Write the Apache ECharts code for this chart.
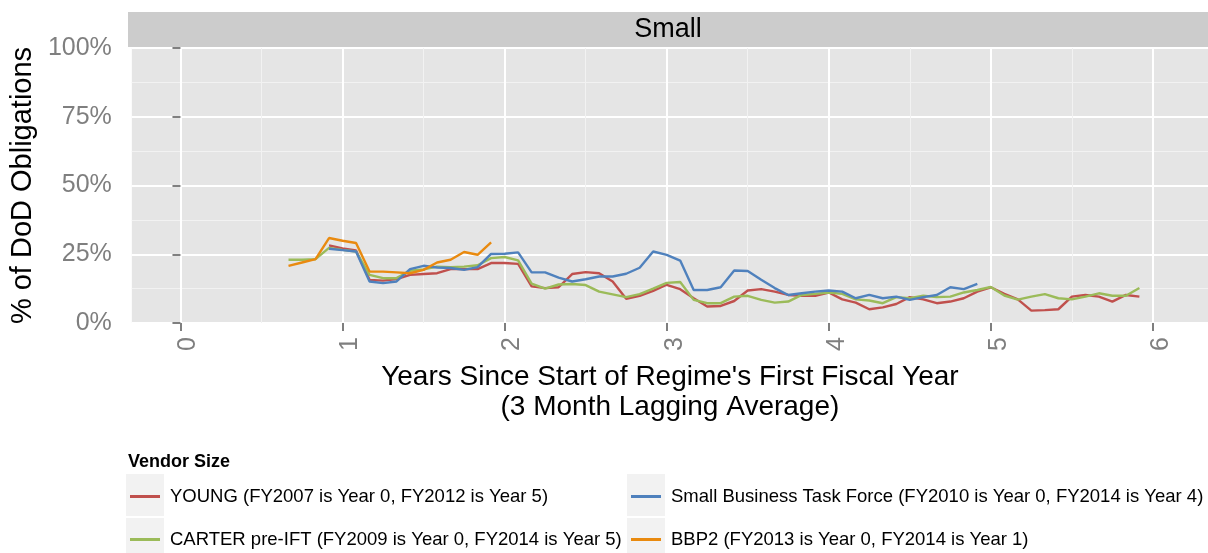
<!DOCTYPE html>
<html>
<head>
<meta charset="utf-8">
<script src="https://cdn.jsdelivr.net/npm/echarts@6/dist/echarts.min.js"></script>
<style>
  html, body { margin: 0; padding: 0; background: #fff; }
  #chart { width: 1208px; height: 553px; }
</style>
</head>
<body>
<div id="chart"></div>
<script>
// monthly points, x = month / 12 (years since start of regime)
const seriesNames = [
  'YOUNG (FY2007 is Year 0, FY2012 is Year 5)',
  'CARTER pre-IFT (FY2009 is Year 0, FY2014 is Year 5)',
  'Small Business Task Force (FY2010 is Year 0, FY2014 is Year 4)',
  'BBP2 (FY2013 is Year 0, FY2014 is Year 1)'
];
const youngStart = 11;
const youngValues = [28.2, 27.1, 26.4, 15.7, 15.4, 16.0, 17.5, 17.8, 18.1, 19.6, 19.6, 19.6, 21.8, 21.8, 21.5,
  13.3, 12.7, 13.0, 17.8, 18.5, 18.1, 15.1, 8.8, 9.9, 11.7, 13.9, 12.3, 9.0, 6.0, 6.2, 8.0, 11.8, 12.3, 11.4,
  10.2, 9.9, 9.9, 11.1, 8.6, 7.4, 5.0, 5.7, 6.9, 9.4, 8.6, 7.2, 7.8, 9.0, 11.4, 13.0, 10.6, 8.6, 4.5, 4.7, 5.0,
  9.6, 10.2, 9.6, 7.8, 10.2, 9.6];
const carterStart = 8;
const carterValues = [23.0, 23.0, 23.2, 27.3, 26.6, 26.0, 17.5, 16.3, 16.3, 19.0, 19.5, 20.5, 20.3, 20.5, 21.0,
  23.6, 24.0, 22.8, 14.3, 12.5, 14.0, 14.2, 13.8, 11.4, 10.4, 9.4, 10.5, 12.5, 14.6, 14.9, 8.4, 7.2, 7.2, 9.6,
  9.9, 8.4, 7.4, 7.8, 10.2, 10.6, 11.1, 10.6, 8.6, 8.2, 7.2, 9.4, 9.0, 9.9, 9.4, 9.6, 11.1, 12.0, 13.1, 10.0,
  8.5, 9.6, 10.5, 9.0, 8.6, 9.6, 10.8, 9.9, 9.9, 12.7];
const sbtfStart = 11;
const sbtfValues = [27.0, 26.5, 26.0, 15.1, 14.5, 15.1, 19.6, 20.8, 20.2, 20.0, 19.3, 20.3, 25.1, 25.2, 25.7,
  18.4, 18.4, 16.5, 15.1, 15.9, 16.9, 16.9, 17.9, 20.1, 26.0, 24.8, 22.7, 12.0, 12.0, 13.0, 19.1, 18.9, 15.7,
  12.7, 10.2, 10.8, 11.4, 11.8, 11.4, 9.0, 10.2, 9.0, 9.6, 8.4, 9.4, 10.2, 13.0, 12.3, 14.2];
const bbp2Start = 8;
const bbp2Values = [20.8, 22.0, 23.2, 30.9, 29.9, 29.1, 18.7, 18.7, 18.4, 18.1, 19.3, 22.0, 23.0, 25.8, 24.8, 29.3];

const xTicks = [0, 1, 2, 3, 4, 5, 6];
const xMinorTicks = [0.5, 1.5, 2.5, 3.5, 4.5, 5.5];

const colors = ['#C0504D', '#9BBB59', '#4F81BD', '#E98A0F'];
const font = "'Liberation Sans', Arial, sans-serif";

function toPoints(start, values) {
  return values.map((v, i) => [(start + i) / 12, v / 100]);
}

const chart = echarts.init(document.getElementById('chart'));

const lineSeries = [
  [youngStart, youngValues],
  [carterStart, carterValues],
  [sbtfStart, sbtfValues],
  [bbp2Start, bbp2Values]
].map((d, i) => ({
  name: seriesNames[i],
  type: 'line',
  xAxisIndex: 0,
  data: toPoints(d[0], d[1]),
  showSymbol: false,
  symbol: 'none',
  lineStyle: { color: colors[i], width: 2.4 },
  itemStyle: { color: colors[i] },
  z: 2 + i
}));

const legendBase = {
  orient: 'vertical',
  top: 487,
  height: 70,
  padding: 0,
  itemGap: 24,
  itemWidth: 30, itemHeight: 3,
  icon: 'rect',
  textStyle: { fontFamily: font, fontSize: 18.5, color: '#000', lineHeight: 18, padding: [0, 0, 0, 5] }
};

const option = {
  animation: false,
  grid: {
    left: 128, right: 0, top: 48, bottom: 230,
    show: true, backgroundColor: '#E5E5E5', borderWidth: 0
  },
  xAxis: [{
    type: 'value',
    min: -0.3,
    max: 6.34,
    name: "Years Since Start of Regime's First Fiscal Year\n(3 Month Lagging Average)",
    nameLocation: 'middle',
    nameGap: 39,
    nameTextStyle: { fontFamily: font, fontSize: 28, color: '#000', lineHeight: 30 },
    axisLine: { show: false },
    axisTick: { show: true, length: 8, customValues: xTicks, lineStyle: { color: '#7F7F7F', width: 2 } },
    axisLabel: {
      customValues: xTicks, rotate: 90, margin: 14,
      verticalAlign: 'top', lineHeight: 16,
      fontFamily: font, fontSize: 25, color: '#7F7F7F'
    },
    splitLine: { show: true, lineStyle: { color: '#FFFFFF', width: 2 } }
  }, {
    type: 'value',
    min: -0.3,
    max: 6.34,
    position: 'bottom',
    axisLine: { show: false },
    axisTick: { show: false, customValues: xMinorTicks },
    axisLabel: { show: false, customValues: xMinorTicks },
    splitLine: { show: true, lineStyle: { color: '#F2F2F2', width: 1 } }
  }],
  yAxis: {
    type: 'value',
    min: 0,
    max: 1,
    interval: 0.25,
    name: '% of DoD Obligations',
    nameLocation: 'middle',
    nameGap: 78,
    nameTextStyle: { fontFamily: font, fontSize: 29, color: '#000' },
    axisLine: { show: false },
    axisTick: { show: true, length: 8, lineStyle: { color: '#7F7F7F', width: 2 } },
    axisLabel: {
      margin: 20, fontFamily: font, fontSize: 25, color: '#7F7F7F',
      formatter: v => Math.round(v * 100) + '%'
    },
    splitLine: { show: true, lineStyle: { color: '#FFFFFF', width: 2 } },
    minorTick: { show: false, splitNumber: 2 },
    minorSplitLine: { show: true, lineStyle: { color: '#F2F2F2', width: 1 } }
  },
  legend: [
    Object.assign({}, legendBase, { left: 130, data: [seriesNames[0], seriesNames[1]] }),
    Object.assign({}, legendBase, { left: 631, data: [seriesNames[2], seriesNames[3]] })
  ],
  graphic: [
    { type: 'rect', shape: { x: 128, y: 12, width: 1080, height: 35 }, style: { fill: '#CCCCCC' }, z: -1 },
    { type: 'text', x: 668, y: 30, style: { text: 'Small', font: '27px ' + font, fill: '#000', align: 'center', verticalAlign: 'middle' } },
    { type: 'text', x: 128, y: 462, style: { text: 'Vendor Size', font: 'bold 18px ' + font, fill: '#000', verticalAlign: 'middle' } },
    { type: 'rect', shape: { x: 126, y: 474, width: 38, height: 42 }, style: { fill: '#F2F2F2' }, z: -1 },
    { type: 'rect', shape: { x: 126, y: 518, width: 38, height: 42 }, style: { fill: '#F2F2F2' }, z: -1 },
    { type: 'rect', shape: { x: 627, y: 474, width: 38, height: 42 }, style: { fill: '#F2F2F2' }, z: -1 },
    { type: 'rect', shape: { x: 627, y: 518, width: 38, height: 42 }, style: { fill: '#F2F2F2' }, z: -1 }
  ],
  series: lineSeries
};

chart.setOption(option);
</script>
</body>
</html>
